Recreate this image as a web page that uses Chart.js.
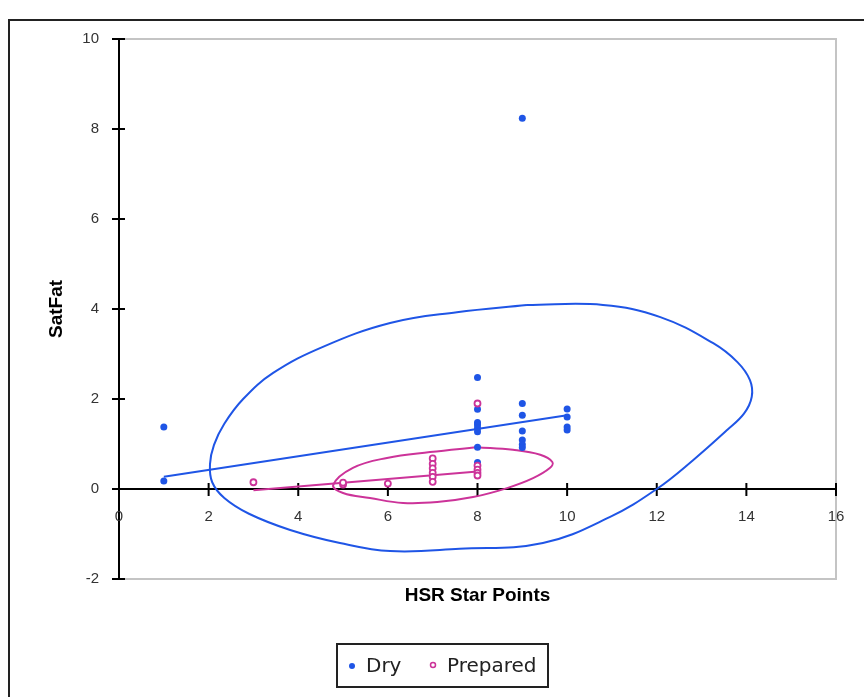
<!DOCTYPE html>
<html>
<head>
<meta charset="utf-8">
<script src="https://cdn.jsdelivr.net/npm/chart.js@4.4.1/dist/chart.umd.min.js"></script>
<style>
    html, body { margin: 0; padding: 0; background: #fff; }
    canvas { display: block; }
</style>
</head>
<body>
<canvas id="chart" width="864" height="697"></canvas>
<script>
// Tick labels
const xTicks = [0, 2, 4, 6, 8, 10, 12, 14, 16];
const yTicks = [-2, 0, 2, 4, 6, 8, 10];

// Dry series
const dryX = [1, 1, 8, 8, 8, 8, 8, 8, 8, 8, 8, 8, 9, 9, 9, 9, 9, 9, 9, 10, 10, 10, 10];
const dryY = [1.38, 0.18, 2.48, 1.77, 1.48, 1.42, 1.35, 1.27, 0.93, 0.59, 0.48, 0.4, 8.24, 1.9, 1.64, 1.29, 1.09, 0.99, 0.92, 1.78, 1.6, 1.38, 1.31];

// Prepared series
const prepX = [3, 5, 5, 6, 7, 7, 7, 7, 7, 7, 8, 8, 8, 8, 8];
const prepY = [0.15, 0.1, 0.14, 0.12, 0.68, 0.56, 0.46, 0.36, 0.27, 0.16, 1.9, 0.52, 0.43, 0.36, 0.3];

// Trend lines
const dryTrendX = [1, 10];
const dryTrendY = [0.27, 1.64];
const prepTrendX = [3, 8];
const prepTrendY = [-0.03, 0.39];

// Ellipse outlines (start and end at the top, where the curve is flat)
const dryEllX = [9.1, 10.8, 12.08, 13.26, 13.8, 14.08, 14.12, 13.95, 13.57, 12.81, 12.0, 10.96, 9.46, 7.6, 6.05, 4.93, 3.82, 2.9, 2.35, 2.08, 2.03, 2.12, 2.35, 2.77, 3.44, 4.55, 6.05, 7.54, 9.1];
const dryEllY = [4.09, 4.09, 3.82, 3.24, 2.82, 2.42, 2.05, 1.68, 1.31, 0.64, 0.0, -0.62, -1.2, -1.33, -1.38, -1.2, -0.91, -0.55, -0.2, 0.15, 0.55, 0.98, 1.45, 2.0, 2.58, 3.16, 3.69, 3.93, 4.09];
const prepEllX = [7.99, 8.79, 9.4, 9.67, 9.62, 9.24, 8.66, 7.9, 7.1, 6.34, 5.6, 5.0, 4.78, 5.22, 5.98, 6.94, 7.99];
const prepEllY = [0.93, 0.87, 0.76, 0.6, 0.47, 0.24, 0.02, -0.18, -0.29, -0.31, -0.2, -0.09, 0.09, 0.47, 0.69, 0.82, 0.93];

const BLUE = '#1f55e6';
const PINK = '#cc3399';

const pts = (xs, ys) => xs.map((v, i) => ({ x: v, y: ys[i] }));

const axesPlugin = {
    id: 'axes',
    beforeDatasetsDraw(chart) {
        const { ctx, chartArea: a, scales: { x, y } } = chart;
        ctx.save();

        // outer frame (runs off the canvas)
        ctx.strokeStyle = '#222';
        ctx.lineWidth = 2;
        ctx.beginPath();
        ctx.moveTo(9, chart.height);
        ctx.lineTo(9, 20);
        ctx.lineTo(chart.width, 20);
        ctx.stroke();

        // plot area border
        ctx.strokeStyle = '#c4c4c4';
        ctx.strokeRect(a.left, a.top, a.width, a.height);

        // axes crossing at zero
        const x0 = x.getPixelForValue(0);
        const y0 = y.getPixelForValue(0);
        ctx.strokeStyle = '#000';
        ctx.lineWidth = 2;
        ctx.beginPath();
        ctx.moveTo(x0, a.top);
        ctx.lineTo(x0, a.bottom);
        ctx.moveTo(a.left, y0);
        ctx.lineTo(a.right, y0);
        ctx.stroke();

        // tick marks (cross style)
        ctx.beginPath();
        yTicks.forEach(t => {
            const py = y.getPixelForValue(t);
            ctx.moveTo(x0 - 7, py);
            ctx.lineTo(x0 + 6, py);
        });
        xTicks.forEach(t => {
            const px = x.getPixelForValue(t);
            ctx.moveTo(px, y0 - 6);
            ctx.lineTo(px, y0 + 7);
        });
        ctx.stroke();
        ctx.restore();
    },
    afterDraw(chart) {
        const { ctx, chartArea: a, scales: { x, y } } = chart;
        const x0 = x.getPixelForValue(0);
        const y0 = y.getPixelForValue(0);
        ctx.save();

        // tick labels
        ctx.fillStyle = '#333';
        ctx.font = '15px "Liberation Sans", Arial, sans-serif';
        ctx.textAlign = 'right';
        ctx.textBaseline = 'middle';
        yTicks.forEach(t => ctx.fillText(String(t), x0 - 20, y.getPixelForValue(t)));
        ctx.textAlign = 'center';
        xTicks.forEach(t => ctx.fillText(String(t), x.getPixelForValue(t), y0 + 28));

        // axis titles
        ctx.fillStyle = '#000';
        ctx.font = 'bold 19px "Liberation Sans", Arial, sans-serif';
        ctx.fillText('HSR Star Points', (a.left + a.right) / 2, a.bottom + 17);
        ctx.save();
        ctx.translate(57, (a.top + a.bottom) / 2);
        ctx.rotate(-Math.PI / 2);
        ctx.fillText('SatFat', 0, 0);
        ctx.restore();

        // legend box
        ctx.strokeStyle = '#222';
        ctx.lineWidth = 2;
        ctx.strokeRect(337, 644, 211, 43);
        ctx.font = '20px "DejaVu Sans", Verdana, sans-serif';
        ctx.textAlign = 'left';
        ctx.fillStyle = BLUE;
        ctx.beginPath();
        ctx.arc(352, 666, 3, 0, Math.PI * 2);
        ctx.fill();
        ctx.fillStyle = '#222';
        ctx.fillText('Dry', 366, 667);
        ctx.strokeStyle = PINK;
        ctx.lineWidth = 1.5;
        ctx.beginPath();
        ctx.arc(433, 665, 2.5, 0, Math.PI * 2);
        ctx.stroke();
        ctx.fillStyle = '#222';
        ctx.fillText('Prepared', 447, 667);
        ctx.restore();
    }
};

new Chart(document.getElementById('chart'), {
    type: 'scatter',
    data: {
        datasets: [
            {
                label: 'Dry',
                data: pts(dryX, dryY),
                backgroundColor: BLUE,
                borderColor: BLUE,
                pointRadius: 3.5,
                borderWidth: 0,
                order: 1
            },
            {
                label: 'Prepared',
                data: pts(prepX, prepY),
                backgroundColor: '#fff',
                borderColor: PINK,
                pointRadius: 3,
                borderWidth: 1.8,
                order: 0
            },
            {
                label: 'Dry trend',
                data: pts(dryTrendX, dryTrendY),
                showLine: true,
                borderColor: BLUE,
                borderWidth: 2,
                pointRadius: 0,
                order: 3
            },
            {
                label: 'Prepared trend',
                data: pts(prepTrendX, prepTrendY),
                showLine: true,
                borderColor: PINK,
                borderWidth: 2,
                pointRadius: 0,
                order: 3
            },
            {
                label: 'Dry ellipse',
                data: pts(dryEllX, dryEllY),
                showLine: true,
                borderColor: BLUE,
                borderWidth: 2,
                pointRadius: 0,
                tension: 0.4,
                order: 4
            },
            {
                label: 'Prepared ellipse',
                data: pts(prepEllX, prepEllY),
                showLine: true,
                borderColor: PINK,
                borderWidth: 2,
                pointRadius: 0,
                tension: 0.4,
                order: 4
            }
        ]
    },
    options: {
        responsive: false,
        animation: false,
        devicePixelRatio: 1,
        layout: {
            padding: { left: 119, right: 28, top: 39, bottom: 118 }
        },
        plugins: {
            legend: { display: false },
            tooltip: { enabled: false }
        },
        scales: {
            x: { type: 'linear', min: 0, max: 16, display: false },
            y: { type: 'linear', min: -2, max: 10, display: false }
        }
    },
    plugins: [axesPlugin]
});
</script>
</body>
</html>
